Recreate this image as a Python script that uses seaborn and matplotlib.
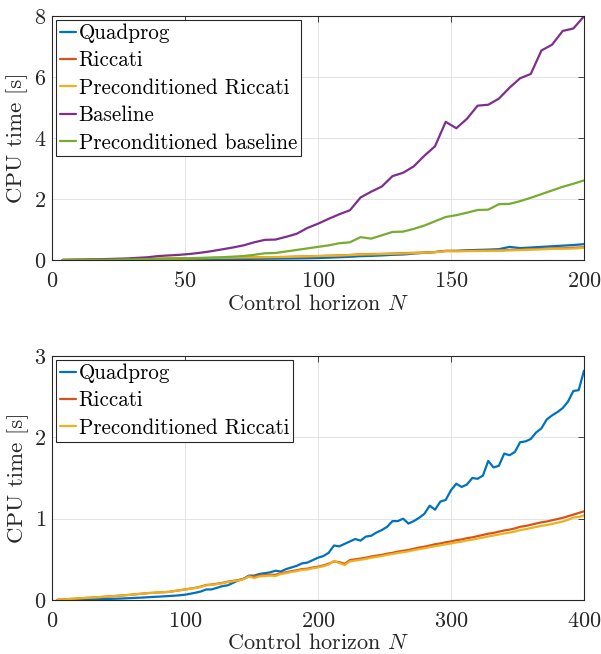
import numpy as np
import pandas as pd
import matplotlib
matplotlib.use("Agg")
import matplotlib.pyplot as plt
import seaborn as sns

# ---------------- data ----------------
N_top = list(range(4, 201, 4))
N_bot = list(range(4, 401, 4))

top_quadprog = [0.0, 0.001, 0.002, 0.003, 0.004, 0.005, 0.006, 0.008, 0.010, 0.012,
                0.014, 0.016, 0.018, 0.021, 0.024, 0.027, 0.030, 0.034, 0.038, 0.041,
                0.045, 0.049, 0.053, 0.058, 0.065, 0.077, 0.090, 0.105, 0.125, 0.135,
                0.15, 0.17, 0.18, 0.21, 0.235, 0.26, 0.295, 0.30, 0.32, 0.33,
                0.34, 0.355, 0.43, 0.39, 0.41, 0.43, 0.45, 0.47, 0.49, 0.52]
top_riccati = [0.003, 0.007, 0.011, 0.015, 0.020, 0.024, 0.028, 0.032, 0.036, 0.040,
               0.045, 0.050, 0.055, 0.060, 0.066, 0.072, 0.078, 0.085, 0.088, 0.092,
               0.096, 0.100, 0.110, 0.120, 0.130, 0.140, 0.150, 0.165, 0.185, 0.195,
               0.200, 0.210, 0.225, 0.235, 0.245, 0.260, 0.300, 0.295, 0.300, 0.305,
               0.310, 0.315, 0.330, 0.340, 0.355, 0.365, 0.380, 0.385, 0.400, 0.420]
top_prec_riccati = [0.003, 0.007, 0.011, 0.015, 0.020, 0.024, 0.028, 0.032, 0.036, 0.040,
                    0.045, 0.050, 0.055, 0.060, 0.066, 0.072, 0.078, 0.085, 0.088, 0.092,
                    0.096, 0.100, 0.110, 0.120, 0.128, 0.138, 0.148, 0.160, 0.180, 0.185,
                    0.195, 0.205, 0.215, 0.225, 0.240, 0.255, 0.290, 0.285, 0.290, 0.295,
                    0.300, 0.305, 0.315, 0.325, 0.340, 0.350, 0.365, 0.370, 0.375, 0.400]
top_baseline = [0.0, 0.005, 0.01, 0.02, 0.03, 0.04, 0.05, 0.07, 0.09, 0.13,
                0.15, 0.17, 0.20, 0.24, 0.29, 0.35, 0.41, 0.48, 0.58, 0.66,
                0.67, 0.76, 0.86, 1.05, 1.19, 1.35, 1.50, 1.63, 2.05, 2.24,
                2.41, 2.75, 2.86, 3.07, 3.42, 3.73, 4.53, 4.32, 4.63, 5.06,
                5.09, 5.29, 5.65, 5.96, 6.10, 6.87, 7.06, 7.51, 7.59, 7.99]
top_prec_baseline = [0.0, 0.002, 0.005, 0.008, 0.010, 0.015, 0.020, 0.025, 0.030, 0.040,
                     0.050, 0.055, 0.060, 0.070, 0.080, 0.090, 0.110, 0.130, 0.170, 0.220,
                     0.230, 0.280, 0.330, 0.380, 0.430, 0.480, 0.550, 0.580, 0.750, 0.700,
                     0.810, 0.920, 0.930, 1.020, 1.130, 1.270, 1.410, 1.470, 1.550, 1.640,
                     1.650, 1.830, 1.840, 1.930, 2.040, 2.160, 2.280, 2.400, 2.500, 2.610]

bot_quadprog = [0.0, 0.001, 0.002, 0.003, 0.004, 0.005, 0.006, 0.008, 0.010, 0.012,
                0.014, 0.016, 0.018, 0.021, 0.024, 0.027, 0.030, 0.034, 0.038, 0.041,
                0.045, 0.049, 0.053, 0.058, 0.065, 0.077, 0.090, 0.105, 0.130, 0.130,
                0.150, 0.170, 0.180, 0.210, 0.240, 0.260, 0.300, 0.300, 0.320, 0.330,
                0.340, 0.360, 0.350, 0.380, 0.400, 0.420, 0.450, 0.460, 0.490, 0.520,
                0.540, 0.580, 0.670, 0.660, 0.690, 0.720, 0.750, 0.730, 0.780, 0.790,
                0.830, 0.860, 0.900, 0.970, 0.970, 1.000, 0.940, 0.970, 1.010, 1.060,
                1.160, 1.110, 1.210, 1.230, 1.350, 1.430, 1.390, 1.420, 1.500, 1.490,
                1.530, 1.710, 1.630, 1.650, 1.800, 1.780, 1.820, 1.940, 1.950, 1.980,
                2.060, 2.110, 2.220, 2.270, 2.310, 2.360, 2.440, 2.570, 2.580, 2.820]
bot_riccati = [0.003, 0.007, 0.011, 0.015, 0.020, 0.024, 0.028, 0.032, 0.036, 0.040,
               0.045, 0.050, 0.055, 0.060, 0.066, 0.072, 0.078, 0.085, 0.088, 0.092,
               0.096, 0.100, 0.110, 0.120, 0.130, 0.140, 0.150, 0.165, 0.185, 0.190,
               0.200, 0.210, 0.225, 0.235, 0.245, 0.260, 0.290, 0.290, 0.300, 0.305,
               0.310, 0.310, 0.330, 0.340, 0.355, 0.365, 0.380, 0.385, 0.400, 0.410,
               0.425, 0.445, 0.475, 0.465, 0.445, 0.490, 0.500, 0.510, 0.520, 0.535,
               0.545, 0.555, 0.570, 0.580, 0.595, 0.605, 0.615, 0.630, 0.645, 0.655,
               0.670, 0.685, 0.695, 0.710, 0.720, 0.735, 0.745, 0.760, 0.770, 0.785,
               0.800, 0.815, 0.825, 0.840, 0.855, 0.865, 0.880, 0.900, 0.910, 0.925,
               0.940, 0.955, 0.965, 0.980, 0.995, 1.010, 1.030, 1.050, 1.070, 1.090]
bot_prec_riccati = [0.003, 0.007, 0.011, 0.015, 0.020, 0.024, 0.028, 0.032, 0.036, 0.040,
                    0.045, 0.050, 0.055, 0.060, 0.066, 0.072, 0.078, 0.085, 0.088, 0.092,
                    0.096, 0.100, 0.110, 0.120, 0.128, 0.138, 0.148, 0.160, 0.180, 0.185,
                    0.195, 0.205, 0.220, 0.230, 0.240, 0.255, 0.290, 0.270, 0.290, 0.295,
                    0.300, 0.295, 0.320, 0.330, 0.345, 0.355, 0.370, 0.375, 0.390, 0.400,
                    0.415, 0.435, 0.480, 0.455, 0.430, 0.475, 0.485, 0.495, 0.505, 0.520,
                    0.530, 0.540, 0.555, 0.565, 0.578, 0.588, 0.598, 0.612, 0.625, 0.635,
                    0.650, 0.662, 0.672, 0.685, 0.695, 0.708, 0.718, 0.732, 0.742, 0.755,
                    0.768, 0.782, 0.792, 0.805, 0.818, 0.828, 0.842, 0.860, 0.870, 0.885,
                    0.898, 0.912, 0.922, 0.935, 0.950, 0.965, 0.985, 1.015, 1.020, 1.040]

labels_top = ["Quadprog", "Riccati", "Preconditioned Riccati", "Baseline",
              "Preconditioned baseline"]
labels_bot = ["Quadprog", "Riccati", "Preconditioned Riccati"]
colors = ["#0072BD", "#D95319", "#EDB120", "#7E2F8E", "#77AC30"]

# ---------------- style ----------------
sns.set_theme(style="white")
gray = "#262626"
plt.rcParams.update({
    "font.family": ["cmr10"],
    "mathtext.fontset": "cm",
    "axes.formatter.use_mathtext": True,
    "axes.unicode_minus": False,
    "font.size": 16,
    "axes.edgecolor": gray,
    "axes.linewidth": 0.8,
    "xtick.color": gray,
    "ytick.color": gray,
    "axes.labelcolor": gray,
})

top_df = pd.DataFrame({
    "N": N_top * 5,
    "t": top_quadprog + top_riccati + top_prec_riccati + top_baseline + top_prec_baseline,
    "method": sum([[l] * len(N_top) for l in labels_top], []),
})
bot_df = pd.DataFrame({
    "N": N_bot * 3,
    "t": bot_quadprog + bot_riccati + bot_prec_riccati,
    "method": sum([[l] * len(N_bot) for l in labels_bot], []),
})

fig = plt.figure(figsize=(6.01, 6.54), dpi=100)
ax1 = fig.add_axes([52 / 601, 1 - 260 / 654, 532 / 601, 244 / 654])
ax2 = fig.add_axes([52 / 601, 1 - 600 / 654, 532 / 601, 244 / 654])


def style(ax, xmax, xticks, ymax, yticks, labels):
    ax.set_xlim(0, xmax)
    ax.set_ylim(0, ymax)
    ax.set_xticks(xticks)
    ax.set_yticks(yticks)
    ax.grid(True, color="#dedede", linewidth=0.6)
    ax.set_axisbelow(True)
    ax.tick_params(direction="in", length=4.5, width=0.6, top=True, right=True,
                   labelsize=16)
    ax.tick_params(axis="x", pad=8)
    ax.tick_params(axis="y", pad=4)
    for s in ax.spines.values():
        s.set_visible(True)
        s.set_color(gray)
        s.set_linewidth(0.8)
    ax.set_xlabel("Control horizon $N$", fontsize=16, labelpad=2)
    ax.set_ylabel("CPU time [s]", fontsize=16.5, labelpad=4)
    handles = ax.get_lines()[:len(labels)]
    leg = ax.legend(handles, labels, loc="upper left", fontsize=15.2,
                    handlelength=0.8, handletextpad=0.1, labelspacing=0.37,
                    borderpad=0.18, borderaxespad=0.18, fancybox=False,
                    framealpha=1, edgecolor=gray)
    leg.get_frame().set_linewidth(0.8)
    for t in leg.get_texts():
        t.set_color("black")


sns.lineplot(data=top_df, x="N", y="t", hue="method", hue_order=labels_top,
             palette=colors, linewidth=1.6, ax=ax1, legend=False)
style(ax1, 200, [0, 50, 100, 150, 200], 8, [0, 2, 4, 6, 8], labels_top)

sns.lineplot(data=bot_df, x="N", y="t", hue="method", hue_order=labels_bot,
             palette=colors[:3], linewidth=1.6, ax=ax2, legend=False)
style(ax2, 400, [0, 100, 200, 300, 400], 3, [0, 1, 2, 3], labels_bot)

fig.savefig("out.png", dpi=100)
